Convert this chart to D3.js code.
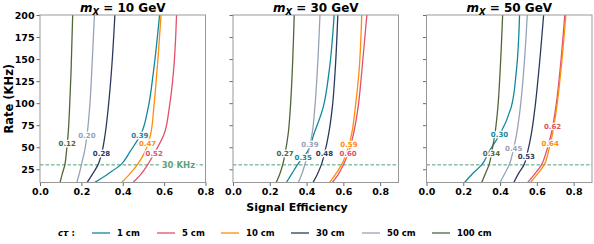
<!DOCTYPE html>
<html>
<head>
<meta charset="utf-8">
<script src="https://cdn.jsdelivr.net/npm/d3@7"></script>
<style>
  body { margin: 0; background: #fff; }
  text { font-family: "DejaVu Sans", sans-serif; font-weight: bold; }
</style>
</head>
<body>
<div id="chart"></div>
<script>
// data
const ctLabels = ['1 cm', '5 cm', '10 cm', '30 cm', '50 cm', '100 cm'];
const colors = ['#12889c', '#e2506a', '#ff8c0a', '#2b3a5c', '#97a2b8', '#506638'];
const masses = [10, 30, 50];
const rates = [10, 20, 30, 45, 65, 95, 135, 200];
const threshold = 30;

// signal efficiency at each rate, per mass, per c tau
const eff10 = [
    [0.265, 0.33, 0.39, 0.435, 0.488, 0.523, 0.548, 0.578],
    [0.45, 0.49, 0.52, 0.557, 0.60, 0.625, 0.645, 0.66],
    [0.395, 0.435, 0.47, 0.508, 0.535, 0.55, 0.565, 0.585],
    [0.228, 0.255, 0.28, 0.30, 0.315, 0.33, 0.345, 0.362],
    [0.178, 0.19, 0.20, 0.215, 0.228, 0.24, 0.25, 0.263],
    [0.097, 0.108, 0.12, 0.128, 0.136, 0.143, 0.15, 0.158]
];
const eff30 = [
    [0.29, 0.32, 0.35, 0.405, 0.44, 0.49, 0.522, 0.55],
    [0.54, 0.575, 0.60, 0.63, 0.655, 0.68, 0.70, 0.728],
    [0.525, 0.56, 0.59, 0.62, 0.645, 0.665, 0.685, 0.70],
    [0.435, 0.46, 0.48, 0.50, 0.52, 0.54, 0.555, 0.57],
    [0.355, 0.375, 0.39, 0.41, 0.43, 0.445, 0.458, 0.473],
    [0.235, 0.255, 0.27, 0.285, 0.30, 0.312, 0.322, 0.333]
];
const eff50 = [
    [0.207, 0.25, 0.30, 0.34, 0.40, 0.46, 0.488, 0.506],
    [0.55, 0.59, 0.625, 0.652, 0.678, 0.703, 0.725, 0.752],
    [0.565, 0.605, 0.64, 0.663, 0.685, 0.708, 0.73, 0.758],
    [0.475, 0.50, 0.53, 0.55, 0.57, 0.59, 0.61, 0.637],
    [0.40, 0.425, 0.45, 0.47, 0.49, 0.51, 0.528, 0.548],
    [0.30, 0.32, 0.34, 0.355, 0.372, 0.388, 0.40, 0.414]
];
const effs = [eff10, eff30, eff50];

// efficiency at 30 KHz (label text) and the rate where each label sits
const labelVals = [
    [0.39, 0.52, 0.47, 0.28, 0.20, 0.12],
    [0.35, 0.60, 0.59, 0.48, 0.39, 0.27],
    [0.30, 0.62, 0.64, 0.53, 0.45, 0.34]
];
const labelRates = [
    [63, 43, 54, 43, 63, 54],
    [38.6, 43, 53.4, 43, 53.4, 43],
    [64, 74, 54, 39.4, 49, 43]
];
const xMax = [0.8, 0.9, 0.9];
const xTicks = [0, 0.2, 0.4, 0.6, 0.8];
const yTicks = [25, 50, 75, 100, 125, 150, 175, 200];

let svgWidth = 594;
let svgHeight = 244;
let panelLeft = [40, 233, 426.5];
let panelWidth = 165.5;
let plotTop = 15, plotBottom = 182.5;

let svg = d3.select('#chart').append('svg')
    .attr('width', svgWidth)
    .attr('height', svgHeight);

let y = d3.scaleLinear().domain([10, 200]).range([plotBottom, plotTop]);

masses.forEach(function (m, p) {
    let x = d3.scaleLinear().domain([0, xMax[p]]).range([0, panelWidth]);
    let g = svg.append('g').attr('transform', `translate(${panelLeft[p]},0)`);

    g.append('clipPath').attr('id', 'clip' + p)
        .append('rect').attr('x', 0).attr('y', plotTop)
        .attr('width', panelWidth).attr('height', plotBottom - plotTop);

    // axes
    let xAxis = g.append('g')
        .attr('transform', `translate(0,${plotBottom})`)
        .call(d3.axisBottom(x).tickValues(xTicks).tickFormat(d3.format('.1f')).tickSize(3.5).tickPadding(2));
    let yAxis = g.append('g')
        .call(d3.axisLeft(y).tickValues(yTicks).tickSize(3.5).tickPadding(2));
    if (p > 0) yAxis.selectAll('text').remove();
    [xAxis, yAxis].forEach(function (a) {
        a.select('.domain').remove();
        a.selectAll('line').attr('stroke', '#444').attr('stroke-width', 0.8);
        a.selectAll('text').attr('font-size', '9.5px').attr('fill', '#000');
    });

    let plot = g.append('g').attr('clip-path', `url(#clip${p})`);

    // threshold line
    plot.append('line')
        .attr('x1', 0).attr('x2', panelWidth)
        .attr('y1', y(threshold)).attr('y2', y(threshold))
        .attr('stroke', '#4f9e72').attr('stroke-width', 1)
        .attr('stroke-dasharray', '3.5,2');

    if (p === 0) {
        plot.append('text')
            .attr('x', x(0.669)).attr('y', y(threshold))
            .attr('dy', '0.35em')
            .attr('text-anchor', 'middle')
            .attr('font-size', '8.5px')
            .attr('fill', '#5aa47c')
            .attr('stroke', '#fff').attr('stroke-width', 3)
            .attr('paint-order', 'stroke')
            .text('30 KHz');
    }

    let line = d3.line()
        .x(d => x(d[0]))
        .y(d => y(d[1]))
        .curve(d3.curveMonotoneY);

    effs[p].forEach(function (e, i) {
        plot.append('path')
            .datum(rates.map((r, k) => [e[k], r]))
            .attr('fill', 'none')
            .attr('stroke', colors[i])
            .attr('stroke-width', 1.3)
            .attr('d', line);
    });

    effs[p].forEach(function (e, i) {
        let interp = d3.scaleLinear().domain(rates).range(e);
        let r = labelRates[p][i];
        plot.append('text')
            .attr('x', x(interp(r))).attr('y', y(r))
            .attr('dy', '0.35em')
            .attr('text-anchor', 'middle')
            .attr('font-size', '7px')
            .attr('fill', colors[i])
            .attr('stroke', '#fff').attr('stroke-width', 2.5)
            .attr('paint-order', 'stroke')
            .text(labelVals[p][i].toFixed(2));
    });

    // frame
    g.append('rect')
        .attr('x', 0).attr('y', plotTop)
        .attr('width', panelWidth).attr('height', plotBottom - plotTop)
        .attr('fill', 'none').attr('stroke', '#999').attr('stroke-width', 1);

    // title
    let title = g.append('text')
        .attr('x', panelWidth / 2).attr('y', 11.5)
        .attr('text-anchor', 'middle')
        .attr('font-size', '12px');
    title.append('tspan').attr('font-style', 'italic').text('m');
    title.append('tspan').attr('font-style', 'italic').attr('font-size', '8.5px').attr('dy', 3).text('X');
    title.append('tspan').attr('dy', -3).text(` = ${m} GeV`);
});

// axis labels
svg.append('text')
    .attr('transform', `translate(13,${(plotTop + plotBottom) / 2}) rotate(-90)`)
    .attr('text-anchor', 'middle')
    .attr('font-size', '11.5px')
    .text('Rate (KHz)');

svg.append('text')
    .attr('x', 297).attr('y', 211)
    .attr('text-anchor', 'middle')
    .attr('font-size', '11px')
    .text('Signal Efficiency');

// legend
let legend = svg.append('g').attr('transform', 'translate(0,233)');
let head = legend.append('text').attr('x', 58).attr('dy', '0.35em').attr('font-size', '8.5px');
head.append('tspan').attr('font-style', 'italic').text('cτ');
head.append('tspan').text(' :');

let itemX = [92, 157, 221, 291, 362, 432];
ctLabels.forEach(function (lbl, i) {
    legend.append('line')
        .attr('x1', itemX[i]).attr('x2', itemX[i] + 18)
        .attr('y1', 0).attr('y2', 0)
        .attr('stroke', colors[i]).attr('stroke-width', 1.3);
    legend.append('text')
        .attr('x', itemX[i] + 25).attr('dy', '0.35em')
        .attr('font-size', '8.5px')
        .text(lbl);
});
</script>
</body>
</html>
